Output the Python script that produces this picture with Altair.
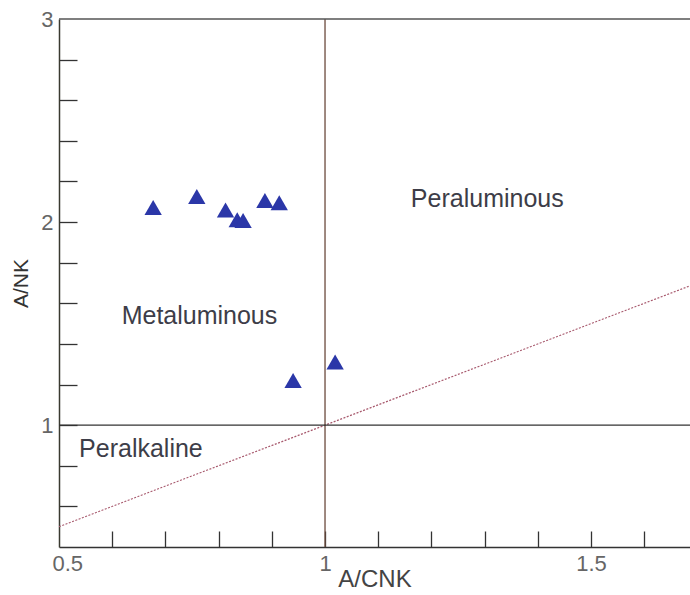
import altair as alt
import pandas as pd

# Sample compositions (molar ratios)
acnk = [0.677, 0.759, 0.813, 0.835, 0.846, 0.887, 0.914, 0.940, 1.019]
ank = [2.072, 2.126, 2.059, 2.011, 2.008, 2.106, 2.095, 1.220, 1.311]

# Field names and where they are written
field_names = ["Peraluminous", "Metaluminous", "Peralkaline"]
field_x = [1.305, 0.764, 0.654]
field_y = [2.114, 1.539, 0.883]

# Axis extents, labelled values and minor tick positions
x_min, x_max = 0.5, 1.686
y_min, y_max = 0.4, 3.0
x_labels = [0.5, 1, 1.5]
y_labels = [1, 2, 3]
x_ticks = [0.6, 0.7, 0.8, 0.9, 1.0, 1.1, 1.2, 1.3, 1.4, 1.5, 1.6]
y_ticks = [0.6, 0.8, 1.0, 1.2, 1.4, 1.6, 1.8, 2.0, 2.2, 2.4, 2.6, 2.8]

W, H = 631, 528
FONT = "Liberation Sans"

xs = alt.Scale(domain=[x_min, x_max], nice=False, zero=False)
ys = alt.Scale(domain=[y_min, y_max], nice=False, zero=False)

samples = pd.DataFrame({"acnk": acnk, "ank": ank})
fields = pd.DataFrame({"name": field_names, "x": field_x, "y": field_y})
diag = pd.DataFrame({"x": [x_min, x_max], "y": [x_min, x_max]})

# Triangles carry the main (labelled) axes
points = alt.Chart(samples).mark_point(
    shape="triangle-up", filled=True, size=300, color="#2b37a8", opacity=1
).encode(
    x=alt.X("acnk:Q", scale=xs, axis=alt.Axis(
        values=x_labels, format="~g", ticks=False, tickSize=0, grid=False,
        domainColor="#333333", domainWidth=1.5,
        labelFont=FONT, labelFontSize=22, labelColor="#666666",
        labelPadding=6, labelFlush=True, labelFlushOffset=7,
        title="A/CNK", titleFont=FONT, titleFontSize=24,
        titleFontWeight="normal", titleColor="#444444", titlePadding=-7)),
    y=alt.Y("ank:Q", scale=ys, axis=alt.Axis(
        values=y_labels, format="~g", ticks=False, tickSize=0, grid=False,
        domainColor="#3a3a30", domainWidth=1.5,
        labelFont=FONT, labelFontSize=22, labelColor="#666666",
        labelPadding=6,
        title="A/NK", titleFont=FONT, titleFontSize=21,
        titleFontWeight="normal", titleColor="#333333", titlePadding=9)),
)

# Vertical boundary A/CNK = 1; also carries the inward x ticks
vline = alt.Chart(pd.DataFrame({"v": [1.0]})).mark_rule(
    color="#6b4a3c", strokeWidth=1.3
).encode(
    x=alt.X("v:Q", scale=xs, axis=alt.Axis(
        orient="top", offset=-H, values=x_ticks, labels=False, domain=False,
        grid=False, tickSize=16, tickColor="#333333", tickWidth=1.3, title=None)),
)

# Horizontal boundary A/NK = 1; also carries the inward y ticks
hline = alt.Chart(pd.DataFrame({"v": [1.0]})).mark_rule(
    color="#333333", strokeWidth=1.3
).encode(
    y=alt.Y("v:Q", scale=ys, axis=alt.Axis(
        orient="right", offset=-W, values=y_ticks, labels=False, domain=False,
        grid=False, tickSize=18, tickColor="#333333", tickWidth=1.3, title=None)),
)

# Upper frame line
top = alt.Chart(pd.DataFrame({"v": [y_max]})).mark_rule(
    color="#555555", strokeWidth=1.3
).encode(y=alt.Y("v:Q", scale=ys, axis=None))

# A/NK = A/CNK line separating peraluminous from metaluminous
diagonal = alt.Chart(diag).mark_line(
    color="#a85a6e", strokeWidth=1.2, strokeDash=[2, 1.5], clip=True
).encode(
    x=alt.X("x:Q", scale=xs, axis=None),
    y=alt.Y("y:Q", scale=ys, axis=None),
)

labels = alt.Chart(fields).mark_text(
    font=FONT, fontSize=25, color="#3d3d48", align="center", baseline="middle"
).encode(
    x=alt.X("x:Q", scale=xs, axis=None),
    y=alt.Y("y:Q", scale=ys, axis=None),
    text="name:N",
)

chart = alt.layer(diagonal, vline, hline, top, labels, points).resolve_axis(
    x="independent", y="independent"
).properties(
    width=W, height=H,
    padding={"left": 59, "top": 19, "right": 0, "bottom": 48},
    autosize=alt.AutoSizeParams(type="none"),
    background="white",
).configure_view(stroke=None)

chart.save("out.html", embed_options={"renderer": "svg", "actions": False})
